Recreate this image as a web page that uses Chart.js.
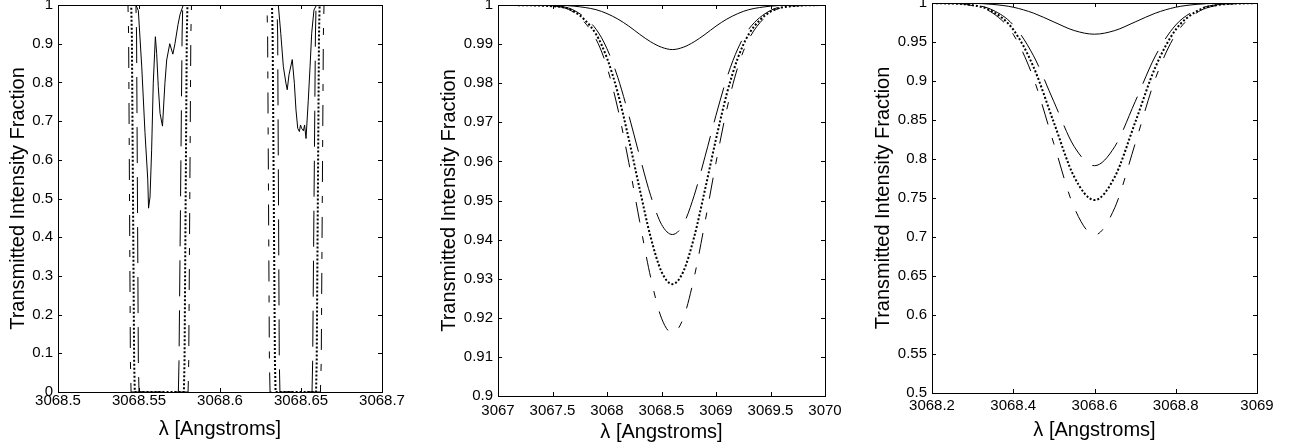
<!DOCTYPE html>
<html>
<head>
<meta charset="utf-8">
<script src="https://cdn.jsdelivr.net/npm/chart.js@4.4.0/dist/chart.umd.min.js"></script>
<style>
  html, body { margin: 0; padding: 0; background: #fff; }
  body { width: 1289px; height: 448px; position: relative; overflow: hidden; }
  canvas { position: absolute; top: 0; }
</style>
</head>
<body>
<canvas id="panelA" width="430" height="448" style="left:0px"></canvas>
<canvas id="panelB" width="430" height="448" style="left:430px"></canvas>
<canvas id="panelC" width="429" height="448" style="left:860px"></canvas>
<script>
// ---- panel A: 3068.5 - 3068.7, saturated lines ----
const xTicksA = [3068.5, 3068.55, 3068.6, 3068.65, 3068.7];
const xLabelsA = ["3068.5", "3068.55", "3068.6", "3068.65", "3068.7"];
const yTicksA = [0, 0.1, 0.2, 0.3, 0.4, 0.5, 0.6, 0.7, 0.8, 0.9, 1];
const yLabelsA = ["0", "0.1", "0.2", "0.3", "0.4", "0.5", "0.6", "0.7", "0.8", "0.9", "1"];

const solidXA = [3068.5, 3068.5481, 3068.5496, 3068.5517, 3068.5537, 3068.5554, 3068.5559, 3068.5568, 3068.5578, 3068.5588,
  3068.5601, 3068.5609, 3068.5619, 3068.5630, 3068.5645, 3068.5660, 3068.5671, 3068.5690, 3068.5709, 3068.5722,
  3068.5741, 3068.5753, 3068.5773, 3068.6360, 3068.6375, 3068.6391, 3068.6407, 3068.6415, 3068.6426, 3068.6446,
  3068.6459, 3068.6469, 3068.6480, 3068.6490, 3068.6497, 3068.6504, 3068.6515, 3068.6522, 3068.6531, 3068.6545,
  3068.6556, 3068.6566, 3068.6580, 3068.6596, 3068.7];
const solidYA = [1, 1, 0.985, 0.84, 0.67, 0.55, 0.475, 0.504, 0.625, 0.798,
  0.918, 0.875, 0.789, 0.72, 0.687, 0.798, 0.858, 0.90, 0.873, 0.90,
  0.95, 0.975, 1, 1, 0.927, 0.841, 0.798, 0.781, 0.82, 0.859,
  0.798, 0.729, 0.681, 0.673, 0.69, 0.681, 0.675, 0.69, 0.655, 0.754,
  0.841, 0.927, 0.987, 1, 1];

const dashXA = [3068.5, 3068.5481, 3068.5485, 3068.5496, 3068.5500, 3068.5743, 3068.5747, 3068.5766, 3068.5770,
  3068.6352, 3068.6356, 3068.6366, 3068.6370, 3068.6568, 3068.6572, 3068.6589, 3068.6593, 3068.7];
const dashYA = [1, 1, 0.92, 0.08, 0, 0, 0.08, 0.92, 1, 1, 0.92, 0.08, 0, 0, 0.08, 0.92, 1, 1];

const dotXA = [3068.5, 3068.5452, 3068.5456, 3068.5470, 3068.5474, 3068.5777, 3068.5781, 3068.5795, 3068.5799,
  3068.6321, 3068.6325, 3068.6339, 3068.6343, 3068.6593, 3068.6597, 3068.6611, 3068.6615, 3068.7];
const dotYA = [1, 1, 0.92, 0.08, 0, 0, 0.08, 0.92, 1, 1, 0.92, 0.08, 0, 0, 0.08, 0.92, 1, 1];

const dashDotXA = [3068.5, 3068.5432, 3068.5436, 3068.5447, 3068.5451, 3068.5803, 3068.5807, 3068.5820, 3068.5824,
  3068.6290, 3068.6294, 3068.6305, 3068.6309, 3068.6620, 3068.6625, 3068.6638, 3068.6642, 3068.7];
const dashDotYA = [1, 1, 0.92, 0.08, 0, 0, 0.08, 0.92, 1, 1, 0.92, 0.08, 0, 0, 0.08, 0.92, 1, 1];

// ---- panel B: 3067 - 3070, weak lines ----
const xTicksB = [3067, 3067.5, 3068, 3068.5, 3069, 3069.5, 3070];
const xLabelsB = ["3067", "3067.5", "3068", "3068.5", "3069", "3069.5", "3070"];
const yTicksB = [0.9, 0.91, 0.92, 0.93, 0.94, 0.95, 0.96, 0.97, 0.98, 0.99, 1];
const yLabelsB = ["0.9", "0.91", "0.92", "0.93", "0.94", "0.95", "0.96", "0.97", "0.98", "0.99", "1"];

const xB = [3067, 3067.5, 3067.7, 3067.9, 3068, 3068.1, 3068.2, 3068.3, 3068.4, 3068.5, 3068.6,
  3068.7, 3068.8, 3068.9, 3069, 3069.1, 3069.2, 3069.3, 3069.5, 3069.7, 3070];
const solidB = [1, 1.0, 0.9997, 0.9988, 0.9978, 0.9964, 0.9946, 0.9925, 0.9906, 0.9892, 0.9886,
  0.9892, 0.9906, 0.9925, 0.9946, 0.9964, 0.9978, 0.9988, 0.9997, 1.0, 1];
const dashB = [1, 0.9998, 0.9986, 0.9938, 0.9888, 0.9814, 0.9718, 0.9613, 0.9513, 0.9439, 0.9413,
  0.9439, 0.9513, 0.9613, 0.9718, 0.9814, 0.9888, 0.9938, 0.9986, 0.9998, 1];
const dotB = [1, 0.9997, 0.9983, 0.9925, 0.9864, 0.9774, 0.9657, 0.9529, 0.9407, 0.9318, 0.9286,
  0.9318, 0.9407, 0.9529, 0.9657, 0.9774, 0.9864, 0.9925, 0.9983, 0.9997, 1];
const dashDotB = [1, 0.9997, 0.9980, 0.9912, 0.9841, 0.9734, 0.9597, 0.9446, 0.9304, 0.9199, 0.9161,
  0.9199, 0.9304, 0.9446, 0.9597, 0.9734, 0.9841, 0.9912, 0.9980, 0.9997, 1];

// ---- panel C: 3068.2 - 3069 ----
const xTicksC = [3068.2, 3068.4, 3068.6, 3068.8, 3069];
const xLabelsC = ["3068.2", "3068.4", "3068.6", "3068.8", "3069"];
const yTicksC = [0.5, 0.55, 0.6, 0.65, 0.7, 0.75, 0.8, 0.85, 0.9, 0.95, 1];
const yLabelsC = ["0.5", "0.55", "0.6", "0.65", "0.7", "0.75", "0.8", "0.85", "0.9", "0.95", "1"];

const xC = [3068.2, 3068.3, 3068.35, 3068.4, 3068.45, 3068.5, 3068.55, 3068.6,
  3068.65, 3068.7, 3068.75, 3068.8, 3068.85, 3068.9, 3069];
const solidC = [1, 0.9996, 0.9982, 0.9946, 0.9870, 0.9757, 0.9647, 0.9600, 0.9647, 0.9757, 0.9870, 0.9946, 0.9982, 0.9996, 1];
const dashC = [1, 0.9977, 0.9908, 0.9718, 0.9322, 0.8734, 0.8160, 0.7914, 0.8160, 0.8734, 0.9322, 0.9718, 0.9908, 0.9977, 1];
const dotC = [1, 0.9972, 0.9889, 0.9659, 0.9179, 0.8467, 0.7772, 0.7474, 0.7772, 0.8467, 0.9179, 0.9659, 0.9889, 0.9972, 1];
const dashDotC = [1, 0.9967, 0.9869, 0.9599, 0.9033, 0.8195, 0.7377, 0.7026, 0.7377, 0.8195, 0.9033, 0.9599, 0.9869, 0.9967, 1];

Chart.defaults.font.family = "'Liberation Sans', Arial, sans-serif";
Chart.defaults.color = "#000";

const lineStyles = {
  solid: { borderDash: [], borderWidth: 1 },
  dash: { borderDash: [36, 14], borderWidth: 1 },
  dot: { borderDash: [2, 2], borderWidth: 2 },
  dashDot: { borderDash: [21, 14, 7, 14], borderWidth: 1 },
};

function pts(xs, ys) {
  return xs.map((x, i) => ({ x: x, y: ys[i] }));
}

// Matlab style box with inward ticks on all four sides
const framePlugin = {
  id: "frame",
  afterDatasetsDraw(chart) {
    const { ctx, chartArea: a, scales } = chart;
    const tl = 4;
    ctx.save();
    ctx.strokeStyle = "#000";
    ctx.lineWidth = 1;
    ctx.beginPath();
    scales.x.ticks.forEach((t, i) => {
      const px = Math.round(scales.x.getPixelForTick(i)) + 0.5;
      ctx.moveTo(px, a.bottom); ctx.lineTo(px, a.bottom - tl);
      ctx.moveTo(px, a.top); ctx.lineTo(px, a.top + tl);
    });
    scales.y.ticks.forEach((t, i) => {
      const py = Math.round(scales.y.getPixelForTick(i)) + 0.5;
      ctx.moveTo(a.left, py); ctx.lineTo(a.left + tl, py);
      ctx.moveTo(a.right, py); ctx.lineTo(a.right - tl, py);
    });
    ctx.stroke();
    ctx.strokeRect(Math.round(a.left) + 0.5, Math.round(a.top) + 0.5,
      Math.round(a.right - a.left), Math.round(a.bottom - a.top));
    ctx.restore();
  },
};

function makePanel(id, p) {
  const canvas = document.getElementById(id);
  const W = canvas.width, H = canvas.height;
  const datasets = p.series.map((s) => Object.assign({
    data: pts(s.x, s.y),
    borderColor: "#000",
    pointRadius: 0,
    fill: false,
    tension: p.smooth ? 0.4 : 0,
    cubicInterpolationMode: p.smooth ? "monotone" : "default",
  }, lineStyles[s.style]));

  return new Chart(canvas.getContext("2d"), {
    type: "line",
    data: { datasets: datasets },
    options: {
      responsive: false,
      animation: false,
      devicePixelRatio: 1,
      layout: { padding: { top: p.top, right: W - p.right, bottom: 0, left: 0 } },
      plugins: { legend: { display: false }, tooltip: { enabled: false } },
      scales: {
        x: {
          type: "linear",
          min: p.xTicks[0],
          max: p.xTicks[p.xTicks.length - 1],
          grid: { display: false, drawTicks: false },
          border: { display: false },
          afterBuildTicks: (s) => { s.ticks = p.xTicks.map((v) => ({ value: v })); },
          afterFit: (s) => { s.height = H - p.bottom; s.paddingLeft = 0; s.paddingRight = 0; },
          ticks: {
            autoSkip: false, maxRotation: 0, minRotation: 0,
            padding: p.xPad,
            font: { size: 15 },
            callback: (v, i) => p.xLabels[i],
          },
          title: {
            display: true, text: "λ [Angstroms]",
            font: { size: 20 }, padding: { top: 0, bottom: p.xTitlePad },
          },
        },
        y: {
          type: "linear",
          min: p.yTicks[0],
          max: p.yTicks[p.yTicks.length - 1],
          grid: { display: false, drawTicks: false },
          border: { display: false },
          afterBuildTicks: (s) => { s.ticks = p.yTicks.map((v) => ({ value: v })); },
          afterFit: (s) => { s.width = p.left; s.paddingTop = 0; s.paddingBottom = 0; },
          ticks: {
            autoSkip: false,
            padding: 5,
            font: { size: 15 },
            callback: (v, i) => p.yLabels[i],
          },
          title: {
            display: true, text: "Transmitted Intensity Fraction",
            font: { size: 20 }, padding: { top: p.yTitlePad, bottom: 0 },
          },
        },
      },
    },
    plugins: [framePlugin],
  });
}

makePanel("panelA", {
  left: 58, top: 5, right: 382, bottom: 392, xPad: 0, xTitlePad: 7, yTitlePad: 6,
  xTicks: xTicksA, xLabels: xLabelsA, yTicks: yTicksA, yLabels: yLabelsA, smooth: false,
  series: [
    { x: solidXA, y: solidYA, style: "solid" },
    { x: dashXA, y: dashYA, style: "dash" },
    { x: dotXA, y: dotYA, style: "dot" },
    { x: dashDotXA, y: dashDotYA, style: "dashDot" },
  ],
});

makePanel("panelB", {
  left: 68, top: 5, right: 395, bottom: 396, xPad: 6, xTitlePad: 4, yTitlePad: 7,
  xTicks: xTicksB, xLabels: xLabelsB, yTicks: yTicksB, yLabels: yLabelsB, smooth: true,
  series: [
    { x: xB, y: solidB, style: "solid" },
    { x: xB, y: dashB, style: "dash" },
    { x: xB, y: dotB, style: "dot" },
    { x: xB, y: dashDotB, style: "dashDot" },
  ],
});

makePanel("panelC", {
  left: 72, top: 3, right: 397, bottom: 393, xPad: 4, xTitlePad: 6, yTitlePad: 11,
  xTicks: xTicksC, xLabels: xLabelsC, yTicks: yTicksC, yLabels: yLabelsC, smooth: true,
  series: [
    { x: xC, y: solidC, style: "solid" },
    { x: xC, y: dashC, style: "dash" },
    { x: xC, y: dotC, style: "dot" },
    { x: xC, y: dashDotC, style: "dashDot" },
  ],
});
</script>
</body>
</html>
